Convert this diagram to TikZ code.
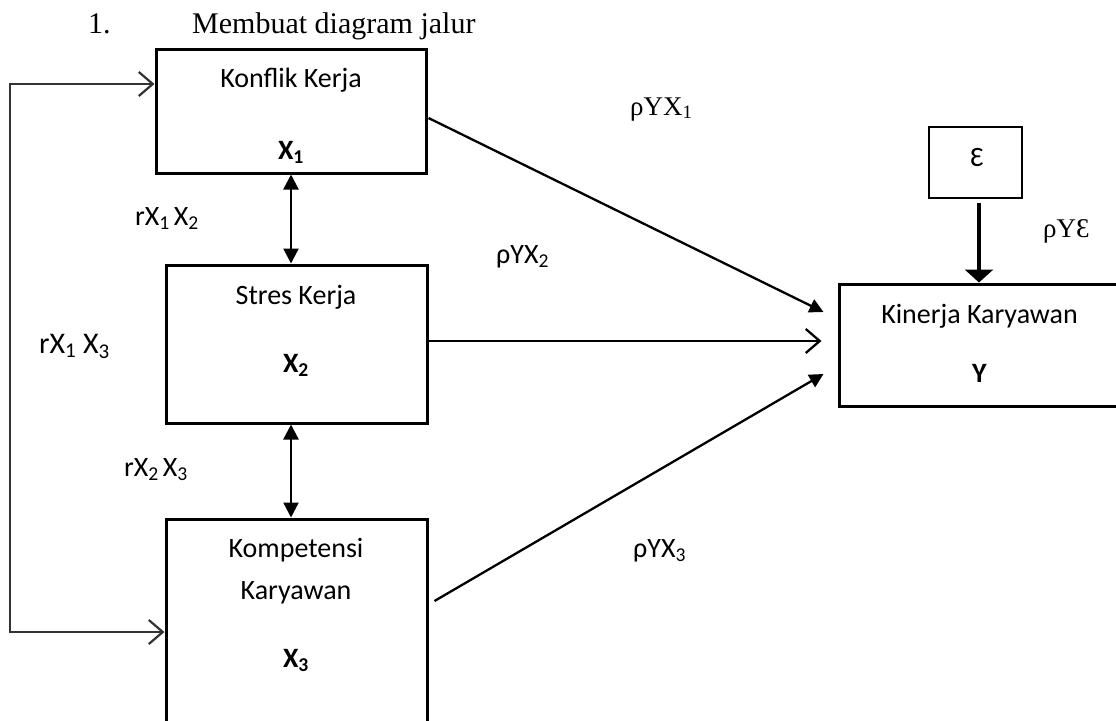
\documentclass[tikz,border=0pt]{standalone}
\usepackage{fontspec}
\setmainfont{Liberation Serif}
\newfontfamily\calf{Carlito}
\usetikzlibrary{arrows.meta,calc}
\begin{document}
\begin{tikzpicture}[x=1pt,y=-1pt,
  box/.style={draw=black,line width=3pt,minimum width=#1,inner sep=0pt},
  lbl/.style={inner sep=0pt,anchor=base west},
  txt/.style={inner sep=0pt,anchor=base,font=\calf\fontsize{28}{30}\selectfont},
  sansl/.style={lbl,font=\calf\fontsize{28}{30}\selectfont},
  serifl/.style={lbl,font=\fontsize{27}{30}\selectfont},
  conn/.style={line width=2.3pt},
  solidhead/.style={-{Triangle[length=14pt,width=14pt]}},
  bothhead/.style={{Triangle[length=15pt,width=15pt]}-{Triangle[length=15pt,width=15pt]}},
  openhead/.style={-{Straight Barb[length=14pt,width=24pt,line width=2.3pt]}}
]
\useasboundingbox (0,0) rectangle (1116,720);
\begin{scope}
\clip (0,0) rectangle (1116,720);
% title
\node[lbl,font=\fontsize{30}{32}\selectfont] (num) at (88,33) {1.};
\node[lbl,font=\fontsize{30}{32}\selectfont] (title) at (192,33) {Membuat diagram jalur};
% boxes
\node[box=270pt,minimum height=124pt] (X1) at (291,111) {};
\node[box=261pt,minimum height=158pt] (X2) at (296.5,344) {};
\node[box=261pt,minimum height=240pt] (X3) at (296.5,639) {};
\node[box=295pt,minimum height=122pt] (Y) at (986.5,345) {};
\node[draw=black,line width=1.8pt,minimum width=93pt,minimum height=71pt,inner sep=0pt] (E) at (975.5,162.5) {};
% box texts
\node[txt] (t1) at (291,87) {Konflik Kerja};
\node[txt] (t1b) at (291,159) {\bfseries X\textsubscript{1}};
\node[txt] (t2) at (296,304) {Stres Kerja};
\node[txt] (t2b) at (296,372) {\bfseries X\textsubscript{2}};
\node[txt] (t3) at (296,557) {Kompetensi};
\node[txt] (t3a) at (296,599) {Karyawan};
\node[txt] (t3b) at (296,667) {\bfseries X\textsubscript{3}};
\node[txt] (ty) at (979.5,323) {Kinerja Karyawan};
\node[txt] (tyb) at (979.5,382) {\bfseries Y};
\node[txt] (te) at (977,166) {Ɛ};
% labels
\node[serifl] (p1) at (630,115) {ρYX\textsubscript{1}};
\node[sansl] (p2) at (496,263) {ρYX\textsubscript{2}};
\node[sansl] (p3) at (633,557) {ρYX\textsubscript{3}};
\node[serifl] (pe) at (1043,237) {ρYƐ};
\node[sansl] (r12) at (135,225) {rX\textsubscript{1}\kern4pt X\textsubscript{2}};
\node[sansl,font=\calf\fontsize{30}{32}\selectfont] (r13) at (39,353) {rX\textsubscript{1} X\textsubscript{3}};
\node[sansl] (r23) at (124,476) {rX\textsubscript{2}\kern4pt X\textsubscript{3}};
% connectors
\coordinate (ltop) at (10,84);
\coordinate (lbot) at (10,632);
\draw[line width=2pt,black!80,{Straight Barb[length=14pt,width=24pt,line width=2.2pt]}-{Straight Barb[length=14pt,width=24pt,line width=2.2pt]}]
  (X1.west |- ltop) -- (ltop) -- (lbot) -- (X3.west |- lbot);
\draw[conn,bothhead] (X1.south) -- (X1.south |- X2.north);
\draw[conn,bothhead] (X1.south |- X2.south) -- (X1.south |- X3.north);
\coordinate (s1) at ($(X1.east)+(1,7)$);
\coordinate (e1) at ($(Y.west)+(-14,-33)$);
\draw[conn,solidhead] (s1) -- (e1);
\coordinate (s2) at ($(X2.east)+(0,-3)$);
\coordinate (e2) at ($(Y.west)+(-16,-4)$);
\draw[conn,openhead] (s2) -- (e2);
\coordinate (s3) at ($(X3.east)+(6,-38)$);
\coordinate (e3) at ($(Y.west)+(-14,29)$);
\draw[conn,solidhead] (s3) -- (e3);
\coordinate (se) at ($(E.south)+(3.5,4)$);
\draw[line width=4.5pt,-{Triangle[length=13pt,width=28pt]}] (se) -- (se |- Y.north);
\end{scope}
\end{tikzpicture}
\end{document}
